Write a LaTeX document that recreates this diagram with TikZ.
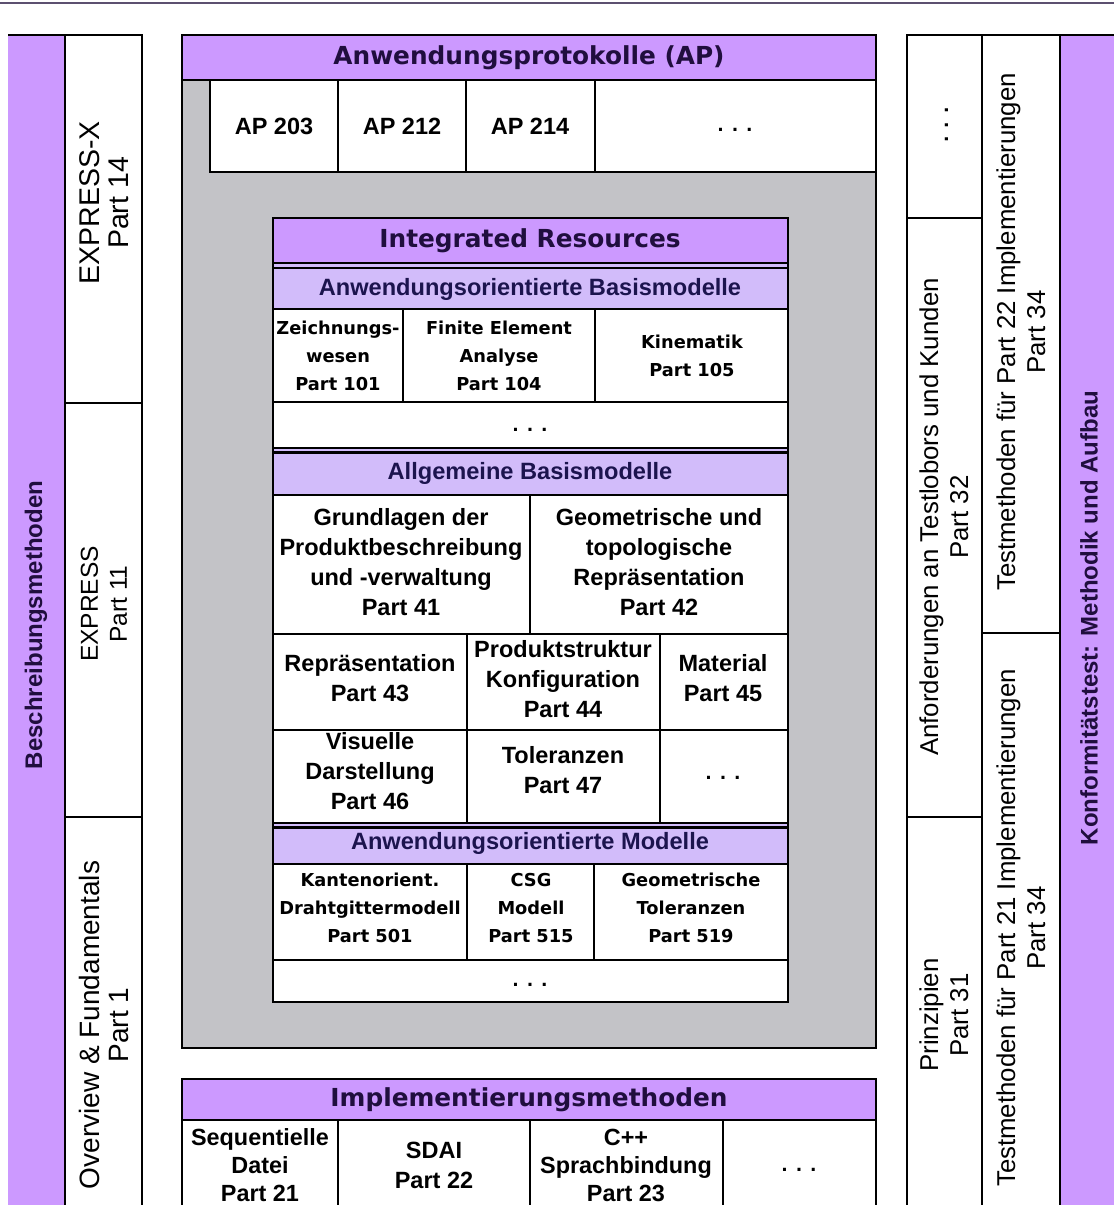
\documentclass[tikz,border=0pt]{standalone}
\usepackage{fontspec}
\setmainfont{Liberation Sans}
\newfontfamily\widefont{DejaVu Sans}
\definecolor{lila}{RGB}{204,153,255}
\definecolor{lilalight}{RGB}{210,188,250}
\definecolor{boxgray}{RGB}{195,195,199}
\definecolor{headtext}{RGB}{32,14,62}
\definecolor{bandtext}{RGB}{28,20,78}
\definecolor{rulecol}{RGB}{92,80,112}
\begin{document}
\begin{tikzpicture}[x=1pt,y=-1pt,
  frame/.style={draw=black,line width=2.8pt},
  sep/.style={draw=black,line width=2.6pt},
  headbox/.style={frame,fill=lila},
  bandbox/.style={frame,fill=lilalight},
  headlabel/.style={font=\widefont\bfseries\fontsize{24.8}{28}\selectfont,text=headtext},
  bandlabel/.style={font=\bfseries\fontsize{23.6}{26}\selectfont,text=bandtext},
  celllabel/.style={font=\bfseries\fontsize{23.5}{30}\selectfont,align=center,inner sep=0pt},
  pixlabel/.style={font=\widefont\bfseries\fontsize{17.8}{28}\selectfont,align=center,inner sep=0pt},
  sidelabel/.style={font=\fontsize{25.8}{30}\selectfont,align=center,rotate=90,inner sep=0pt},
  sidehead/.style={font=\bfseries\fontsize{24}{28}\selectfont,text=headtext,rotate=90,inner sep=0pt},
  dotslabel/.style={font=\widefont\bfseries\fontsize{17}{20}\selectfont,inner sep=0pt}]
\useasboundingbox (0,0) rectangle (1114,1205);
\clip (0,0) rectangle (1114,1205);
\fill[white] (0,0) rectangle (1114,1205);
\draw[rulecol,line width=2pt] (0,3) -- (1114,3);

% left column: description methods
\fill[lila] (8,35) rectangle (65,1240);
\draw[frame,fill=white] (65,35) rectangle (142,1240);
\draw[frame] (8,35) -- (65,35);
\draw[sep] (65,403) -- (142,403);
\draw[sep] (65,817) -- (142,817);
\node[sidehead] (besch) at (36,625) {Beschreibungsmethoden};
\node[sidelabel,font=\fontsize{28.5}{29}\selectfont] (p14) at (104,203) {EXPRESS-X\\Part 14};
\node[sidelabel,font=\fontsize{24.5}{29}\selectfont] (p11) at (104,604) {EXPRESS\\Part 11};
\node[sidelabel,font=\fontsize{28}{29}\selectfont] (p1) at (104,1025) {Overview \& Fundamentals\\Part 1};

% right columns: conformance testing
\fill[lila] (1060,35) rectangle (1114,1240);
\draw[frame,fill=white] (907,35) rectangle (982,1240);
\draw[frame,fill=white] (982,35) rectangle (1060,1240);
\draw[frame] (1060,35) -- (1114,35);
\draw[sep] (907,218) -- (982,218);
\draw[sep] (907,817) -- (982,817);
\draw[sep] (982,633) -- (1060,633);
\node[dotslabel,rotate=90] (rdots) at (947,125) {. . .};
\node[sidelabel] (p32) at (944,517) {Anforderungen an Testlobors und Kunden\\Part 32};
\node[sidelabel] (p31) at (944,1015) {Prinzipien\\Part 31};
\node[sidelabel] (p34a) at (1021,332) {Testmethoden für Part 22 Implementierungen\\Part 34};
\node[sidelabel] (p34b) at (1021,928) {Testmethoden für Part 21 Implementierungen\\Part 34};
\node[sidehead] (konf) at (1089,618) {Konformitätstest: Methodik und Aufbau};

% application protocols block
\draw[frame,fill=boxgray] (182,35) rectangle (876,1048);
\draw[headbox] (182,35) rectangle (876,80);
\node[headlabel] (aphead) at (529,58) {Anwendungsprotokolle (AP)};
\draw[frame,fill=white] (210,80) rectangle (876,172);
\foreach \x in {338,466,595} \draw[sep] (\x,80) -- (\x,172);
\node[celllabel] (ap203) at (274,126) {AP 203};
\node[celllabel] (ap212) at (402,126) {AP 212};
\node[celllabel] (ap214) at (530,126) {AP 214};
\node[dotslabel] (apdots) at (735,130) {. . .};

% integrated resources
\draw[frame,fill=white] (273,218) rectangle (788,1002);
\draw[headbox] (273,218) rectangle (788,263);
\node[headlabel] (irhead) at (530,241) {Integrated Resources};
\draw[bandbox] (273,263) rectangle (788,309);
\draw[sep] (273,268) -- (788,268);
\node[bandlabel] (band1) at (530,289) {Anwendungsorientierte Basismodelle};
\draw[sep] (403,309) -- (403,402);
\draw[sep] (595,309) -- (595,402);
\draw[sep] (273,402) -- (788,402);
\node[pixlabel] (p101) at (338,356) {Zeichnungs-\\wesen\\Part 101};
\node[pixlabel] (p104) at (499,356) {Finite Element\\Analyse\\Part 104};
\node[pixlabel] (p105) at (692,356) {Kinematik\\Part 105};
\node[dotslabel] (irdots1) at (530,430) {. . .};

\draw[bandbox] (273,448) rectangle (788,495);
\draw[sep] (273,452.5) -- (788,452.5);
\node[bandlabel] (band2) at (530,473) {Allgemeine Basismodelle};
\draw[sep] (530,495) -- (530,634);
\draw[sep] (273,634) -- (788,634);
\node[celllabel] (p41) at (401,562) {Grundlagen der\\Produktbeschreibung\\und -verwaltung\\Part 41};
\node[celllabel] (p42) at (659,562) {Geometrische und\\topologische\\Repräsentation\\Part 42};
\draw[sep] (467,634) -- (467,823);
\draw[sep] (660,634) -- (660,823);
\draw[sep] (273,730) -- (788,730);
\node[celllabel] (p43) at (370,678) {Repräsentation\\Part 43};
\node[celllabel] (p44) at (563,679) {Produktstruktur\\Konfiguration\\Part 44};
\node[celllabel] (p45) at (723,678) {Material\\Part 45};
\node[celllabel] (p46) at (370,771) {Visuelle\\Darstellung\\Part 46};
\node[celllabel] (p47) at (563,770) {Toleranzen\\Part 47};
\node[dotslabel] (irdots2) at (723,778) {. . .};

\draw[bandbox] (273,823) rectangle (788,864);
\draw[sep] (273,827.5) -- (788,827.5);
\node[bandlabel] (band3) at (530,843) {Anwendungsorientierte Modelle};
\draw[sep] (467,864) -- (467,960);
\draw[sep] (594,864) -- (594,960);
\draw[sep] (273,960) -- (788,960);
\node[pixlabel] (p501) at (370,908) {Kantenorient.\\Drahtgittermodell\\Part 501};
\node[pixlabel] (p515) at (531,908) {CSG\\Modell\\Part 515};
\node[pixlabel] (p519) at (691,908) {Geometrische\\Toleranzen\\Part 519};
\node[dotslabel] (irdots3) at (530,985) {. . .};

% implementation methods
\draw[frame,fill=white] (182,1079) rectangle (876,1240);
\draw[headbox] (182,1079) rectangle (876,1120);
\node[headlabel] (imhead) at (529,1100) {Implementierungsmethoden};
\foreach \x in {338,530,723} \draw[sep] (\x,1120) -- (\x,1240);
\node[celllabel,font=\bfseries\fontsize{23.4}{28}\selectfont] (p21) at (260,1165) {Sequentielle\\Datei\\Part 21};
\node[celllabel] (p22) at (434,1165) {SDAI\\Part 22};
\node[celllabel,font=\bfseries\fontsize{23.4}{28}\selectfont] (p23) at (626,1165) {C++\\Sprachbindung\\Part 23};
\node[dotslabel] (imdots) at (799,1170) {. . .};
\end{tikzpicture}
\end{document}
